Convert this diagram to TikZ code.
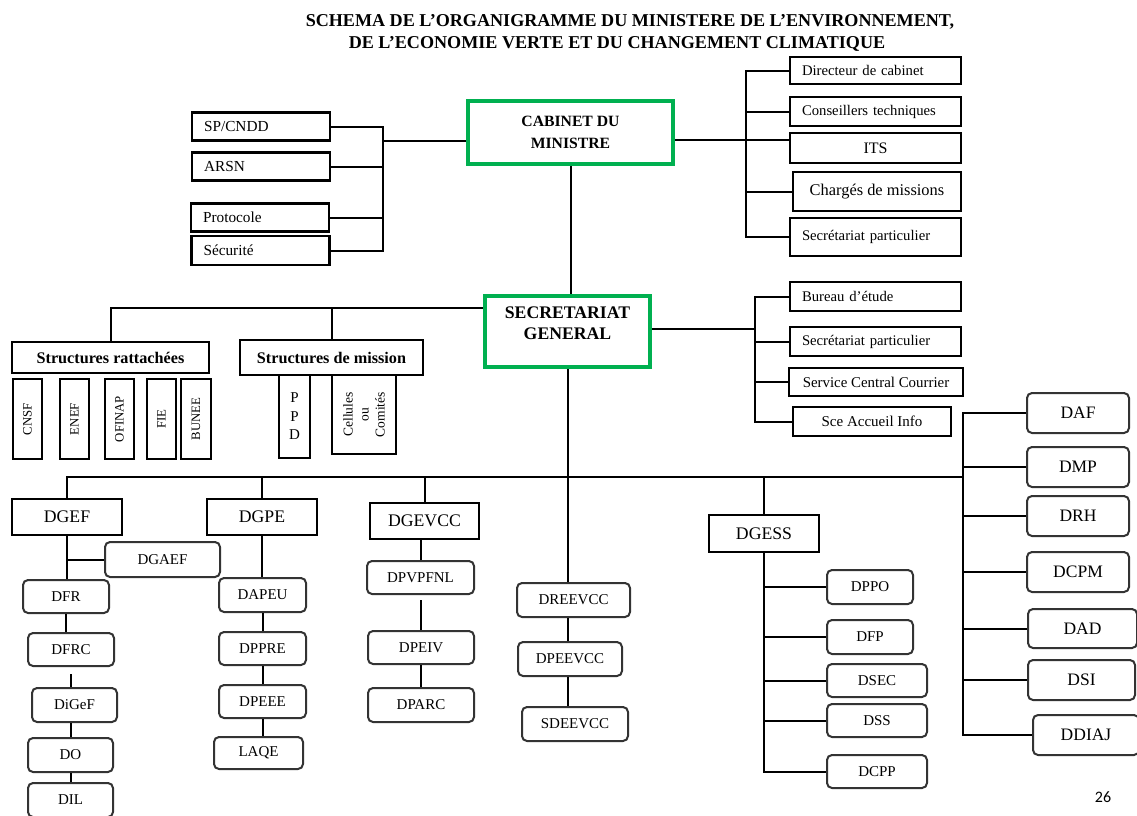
\documentclass[tikz,border=0pt]{standalone}
\usepackage{fontspec}
\setmainfont{Liberation Serif}
\newfontfamily\pagenumfont{Carlito}
\usepackage{tikz}
\usetikzlibrary{calc}
\definecolor{cabgreen}{RGB}{0,176,80}

\begin{document}
\begin{tikzpicture}[x=1pt, y=-1pt,
  box/.style={draw, line width=2.2pt, inner sep=2pt, align=center, font=\fontsize{15}{17}\selectfont},
  lbox/.style={box, align=left, inner xsep=12pt, text width=#1},
  rbox/.style={draw=black!80, line width=2pt, rounded corners=5pt, inner sep=2pt, align=center, font=\fontsize{15}{17}\selectfont},
  dgbox/.style={box, font=\fontsize{17.7}{20}\selectfont},
  dirbox/.style={rbox, font=\fontsize{17.5}{20}\selectfont},
  gbox/.style={draw=cabgreen, line width=4.5pt, inner sep=2pt, align=center},
  vbox/.style={box, rotate=90, font=\fontsize{12.8}{14}\selectfont},
  link/.style={line width=2pt},
  title/.style={font=\bfseries\fontsize{18.1}{21}\selectfont}]

\useasboundingbox (0,0) rectangle (1137,815);

% title
\node[title] (t1) at (630,22) {SCHEMA DE L’ORGANIGRAMME DU MINISTERE DE L’ENVIRONNEMENT,};
\node[title] (t2) at (617,44) {DE L’ECONOMIE VERTE ET DU CHANGEMENT CLIMATIQUE};

% cabinet
\node[gbox, minimum width=205pt, minimum height=63pt, font=\bfseries\fontsize{15.7}{22}\selectfont] (cab) at (570.5,132.5) {CABINET DU\\MINISTRE};

\node[lbox=114pt, minimum height=28pt, font=\fontsize{15.3}{17}\selectfont] (spcndd) at (261,126.5) {SP/CNDD};
\node[lbox=114pt, minimum height=28pt, font=\fontsize{15.3}{17}\selectfont] (arsn) at (261,166.5) {ARSN};
\node[lbox=114pt, minimum height=28pt, font=\fontsize{15.3}{17}\selectfont] (proto) at (260,217.5) {Protocole};
\node[lbox=114pt, minimum height=29pt, font=\fontsize{15.3}{17}\selectfont] (secu) at (260.5,250.5) {Sécurité};

\node[lbox=147pt, minimum height=27pt, font=\fontsize{14.7}{17}\selectfont] (dirc) at (875.5,70.5) {Directeur de cabinet};
\node[lbox=147pt, minimum height=29pt, font=\fontsize{14.7}{17}\selectfont] (cons) at (875.5,111.5) {Conseillers techniques};
\node[box, minimum width=171pt, minimum height=30pt, font=\fontsize{16}{18}\selectfont] (its) at (875.5,148) {ITS};
\node[box, minimum width=168pt, minimum height=39pt, font=\fontsize{16.4}{18}\selectfont] (charg) at (877,191.5) {Chargés de missions};
\node[lbox=147pt, minimum height=38pt, font=\fontsize{14.7}{17}\selectfont] (secp) at (875.5,237) {Secrétariat particulier};

% secretariat general
\node[gbox, minimum width=165pt, minimum height=71pt, font=\bfseries\fontsize{17.7}{21}\selectfont] (sg) at (567.5,331.5) {SECRETARIAT\\GENERAL\\[-4pt]};

\node[lbox=147pt, minimum height=29pt, font=\fontsize{14.7}{17}\selectfont] (bur) at (875.5,296.5) {Bureau d’étude};
\node[lbox=147pt, minimum height=29pt, font=\fontsize{14.7}{17}\selectfont] (secp2) at (875.5,341.5) {Secrétariat particulier};
\node[box, minimum width=174pt, minimum height=28pt, font=\fontsize{14.9}{17}\selectfont] (scc) at (876,382) {Service Central Courrier};
\node[box, minimum width=158pt, minimum height=29pt, font=\fontsize{15}{17}\selectfont] (acc) at (872,421.5) {Sce Accueil Info};

\node[box, minimum width=197pt, minimum height=31pt, font=\bfseries\fontsize{16.2}{18}\selectfont] (srat) at (110.5,357.5) {Structures rattachées};
\node[box, minimum width=183pt, minimum height=35pt, font=\bfseries\fontsize{16.2}{18}\selectfont] (smis) at (331.5,357.5) {Structures de mission};

\node[vbox, minimum width=80pt, minimum height=29pt] (cnsf) at (27.5,419) {CNSF};
\node[vbox, minimum width=80pt, minimum height=29pt] (enef) at (74.5,419) {ENEF};
\node[vbox, minimum width=80pt, minimum height=29pt] (ofinap) at (119.5,419) {OFINAP};
\node[vbox, minimum width=80pt, minimum height=29pt] (fie) at (161.5,419) {FIE};
\node[vbox, minimum width=80pt, minimum height=30pt] (bunee) at (196,419) {BUNEE};
\node[box, minimum width=31pt, minimum height=83pt, font=\fontsize{15}{18.5}\selectfont] (ppd) at (294.5,416.5) {P\\P\\D};
\node[vbox, minimum width=79pt, minimum height=64pt, font=\fontsize{13.5}{16}\selectfont] (cell) at (364,414.5) {Cellules\\ou\\Comités};

% directions generales
\node[dgbox, minimum width=110pt, minimum height=36pt] (dgef) at (67,517) {DGEF};
\node[dgbox, minimum width=110pt, minimum height=36pt] (dgpe) at (262,517) {DGPE};
\node[dgbox, minimum width=109pt, minimum height=36pt] (dgevcc) at (424.5,521) {DGEVCC};
\node[dgbox, minimum width=110pt, minimum height=37pt] (dgess) at (764,533.5) {DGESS};

\node[rbox, minimum width=115pt, minimum height=35pt] (dgaef) at (162.5,559.5) {DGAEF};
\node[rbox, minimum width=86pt, minimum height=33pt] (dfr) at (66,596.5) {DFR};
\node[rbox, minimum width=86pt, minimum height=33pt] (dfrc) at (71,649.5) {DFRC};
\node[rbox, minimum width=85pt, minimum height=34pt] (digef) at (74.5,705) {DiGeF};
\node[rbox, minimum width=85pt, minimum height=34pt] (do) at (70.5,755) {DO};
\node[rbox, minimum width=85pt, minimum height=34pt] (dil) at (70.5,800) {DIL};

\node[rbox, minimum width=87pt, minimum height=34pt] (dapeu) at (262.5,595) {DAPEU};
\node[rbox, minimum width=87pt, minimum height=33pt] (dppre) at (262.5,648.5) {DPPRE};
\node[rbox, minimum width=87pt, minimum height=33pt] (dpeee) at (262.5,701.5) {DPEEE};
\node[rbox, minimum width=89pt, minimum height=32pt] (laqe) at (258.5,753) {LAQE};

\node[rbox, minimum width=107pt, minimum height=33pt] (dpvp) at (420.5,577.5) {DPVPFNL};
\node[rbox, minimum width=106pt, minimum height=33pt] (dpeiv) at (421,647.5) {DPEIV};
\node[rbox, minimum width=106pt, minimum height=34pt] (dparc) at (421,705) {DPARC};

\node[rbox, minimum width=113pt, minimum height=34pt] (dree) at (573.5,600) {DREEVCC};
\node[rbox, minimum width=104pt, minimum height=34pt] (dpee) at (570,659) {DPEEVCC};
\node[rbox, minimum width=106pt, minimum height=34pt] (sdee) at (575,724) {SDEEVCC};

\node[rbox, minimum width=86pt, minimum height=34pt] (dppo) at (870,587) {DPPO};
\node[rbox, minimum width=86pt, minimum height=34pt] (dfp) at (870,637) {DFP};
\node[rbox, minimum width=100pt, minimum height=33pt] (dsec) at (877,680.5) {DSEC};
\node[rbox, minimum width=100pt, minimum height=33pt] (dss) at (877,720.5) {DSS};
\node[rbox, minimum width=100pt, minimum height=33pt] (dcpp) at (877,771.5) {DCPP};

\node[dirbox, minimum width=102pt, minimum height=40pt] (daf) at (1078,413) {DAF};
\node[dirbox, minimum width=102pt, minimum height=40pt] (dmp) at (1078,467) {DMP};
\node[dirbox, minimum width=102pt, minimum height=40pt] (drh) at (1078,516) {DRH};
\node[dirbox, minimum width=102pt, minimum height=40pt] (dcpm) at (1078,572) {DCPM};
\node[dirbox, minimum width=109pt, minimum height=39pt] (dad) at (1082.5,628.5) {DAD};
\node[dirbox, minimum width=107pt, minimum height=40pt] (dsi) at (1081.5,680) {DSI};
\node[dirbox, minimum width=106pt, minimum height=40pt] (ddiaj) at (1086,735) {DDIAJ};

\node[font=\pagenumfont\fontsize{16}{18}\selectfont] (page) at (1103,797) {26};

% bus points
\coordinate (lbus) at (383,141);
\coordinate (rbus) at (746,140);
\coordinate (sgbus) at (755,329);
\coordinate (sgbar) at ([yshift=23.5pt]sg.west);
\coordinate (mbus) at (567,477);
\coordinate (rcol) at (963,477);

% cabinet links
\draw[link] (cab.west |- lbus) -- (lbus);
\draw[link] (spcndd.east) -| (lbus |- secu.east) -- (secu.east);
\draw[link] (arsn.east) -- (arsn.east -| lbus);
\draw[link] (proto.east) -- (proto.east -| lbus);
\draw[link] (cab.east |- rbus) -- (rbus -| its.west);
\draw[link] (dirc.west) -| (rbus |- secp.west) -- (secp.west);
\draw[link] (cons.west) -- (cons.west -| rbus);
\draw[link] (charg.west) -- (charg.west -| rbus);
\draw[link] (cab.south) -- (cab.south |- sg.north);

% secretariat links
\draw[link] (sg.east |- sgbus) -- (sgbus);
\draw[link] (bur.west) -| (sgbus |- acc.west) -- (acc.west);
\draw[link] (secp2.west) -- (secp2.west -| sgbus);
\draw[link] (scc.west) -- (scc.west -| sgbus);
\draw[link] (srat.north) |- (sgbar);
\draw[link] (smis.north) -- (smis.north |- sgbar);

% main bus
\draw[link] (sg.south) -- (sg.south |- dree.north);
\draw[link] (dgef.north) |- (rcol);
\draw[link] (dgpe.north) -- (dgpe.north |- mbus);
\draw[link] (dgevcc.north) -- (dgevcc.north |- mbus);
\draw[link] (dgess.north) -- (dgess.north |- mbus);
\draw[link] (daf.west) -| (rcol |- ddiaj.west) -- (ddiaj.west);
\foreach \n in {dmp,drh,dcpm,dad,dsi}
  \draw[link] (\n.west) -- (\n.west -| rcol);

% DGEF column
\draw[link] (dgef.south) -- (dgef.south |- dfr.north);
\draw[link] (dgaef.west) -- (dgaef.west -| dgef.south);
\draw[link] (dfr.south) -- (dfr.south |- dfrc.north);
\draw[link] ([yshift=-7pt]dfrc.south) -- (dfrc.south |- digef.north);
\draw[link] (do.north) -- (do.north |- digef.south);
\draw[link] (do.south) -- (dil.north);

% DGPE column
\draw[link] (dgpe.south) -- (dgpe.south |- dapeu.north);
\draw[link] (dapeu.south) -- (dppre.north);
\draw[link] (dppre.south) -- (dpeee.north);
\draw[link] (dpeee.south) -- (dpeee.south |- laqe.north);

% DGEVCC column
\draw[link] (dpvp.north) -- (dpvp.north |- dgevcc.south);
\draw[link] ([yshift=-5pt]dpvp.south) -- (dpvp.south |- dpeiv.north);
\draw[link] (dpeiv.south) -- (dparc.north);

% SG column
\draw[link] (sg.south |- dree.south) -- (sg.south |- dpee.north);
\draw[link] (sg.south |- dpee.south) -- (sg.south |- sdee.north);

% DGESS column
\draw[link] (dgess.south) |- (dcpp.west);
\foreach \n in {dppo,dfp,dsec,dss}
  \draw[link] (\n.west) -- (\n.west -| dgess.south);

\end{tikzpicture}
\end{document}
